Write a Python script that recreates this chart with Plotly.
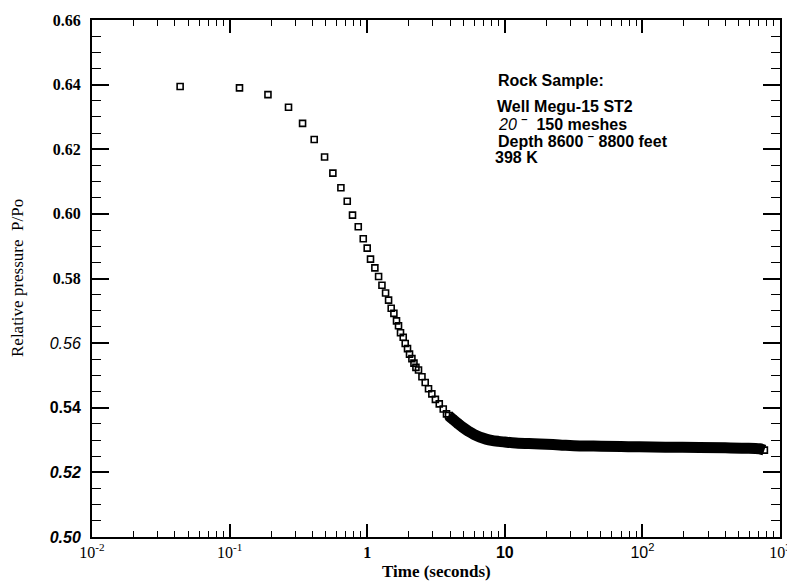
"""Relative pressure decay vs time (log scale), scanned-figure style"""

import plotly.graph_objects as go

# ── data ──

# early part: individual squares still distinguishable
time_head = [0.0437, 0.118, 0.19, 0.268, 0.339, 0.412, 0.49, 0.563, 0.644,
             0.716, 0.782, 0.861, 0.936, 1.0, 1.057, 1.137, 1.21, 1.28, 1.36,
             1.43, 1.494, 1.563, 1.633, 1.689, 1.746, 1.827, 1.889, 1.963,
             2.03, 2.113, 2.187, 2.26, 2.36, 2.50, 2.64, 2.79, 2.95, 3.13,
             3.34, 3.57, 3.77]
pressure_head = [0.6394, 0.6390, 0.6369, 0.6330, 0.6280, 0.6230, 0.6176,
                 0.6126, 0.6081, 0.6039, 0.5996, 0.5960, 0.5923, 0.5894,
                 0.5860, 0.5833, 0.5806, 0.5779, 0.5755, 0.5733, 0.5708,
                 0.5692, 0.5669, 0.5654, 0.5632, 0.5618, 0.5599, 0.5583,
                 0.5566, 0.5552, 0.5538, 0.5525, 0.5517, 0.5496, 0.5478,
                 0.5459, 0.5443, 0.5426, 0.5412, 0.5396, 0.5381]

# late part: markers merge into a solid band
time_tail = [3.9, 4.2, 4.6, 5.0, 5.5, 6.0, 6.6, 7.3, 8.0, 9.0, 10, 12, 15,
             18, 25, 35, 50, 70, 95, 150, 260, 400, 550, 710, 770]
pressure_tail = [0.5376, 0.5364, 0.5350, 0.5338, 0.5326, 0.5317, 0.5309,
                 0.5303, 0.5299, 0.5296, 0.5294, 0.5291, 0.5289, 0.5288,
                 0.5285, 0.5282, 0.5281, 0.5280, 0.5279, 0.5278, 0.5277,
                 0.5276, 0.5275, 0.5273, 0.5269]

x_tickvals = [0.01, 0.1, 1, 10, 100, 1000]
y_tickvals = [0.50, 0.52, 0.54, 0.56, 0.58, 0.60, 0.62, 0.64, 0.66]

SERIF = "Liberation Serif, Times New Roman, serif"
SANS = "Liberation Sans, Arial, sans-serif"


def _sans(s):
    return '<span style="font-family:Liberation Sans, Arial">' + s + "</span>"


x_ticktext = [
    "10<sup>-2</sup>",
    "10<sup>-1</sup>",
    "<b>1</b>",
    _sans("<b>10</b>"),
    _sans("10<sup>2</sup>"),
    "10<sup>3</sup>",
]
y_ticktext = [
    _sans("<b><i>0.50</i></b>"),
    _sans("<b><i>0.52</i></b>"),
    _sans("<b>0.54</b>"),
    _sans("<i>0.56</i>"),
    "<b>0.58</b>", "<b>0.60</b>", "<b>0.62</b>", "<b>0.64</b>", "<b>0.66</b>",
]

# the page body has an 8px margin, so screen px = figure px + 8
OFF = 8
# plot area in screen pixels
L, R, T, B = 92, 780, 19.5, 537.5
W, H = 795, 584


def px_x(x):
    return (x - L) / (R - L)


def px_y(y):
    return (B - y) / (B - T)


minor_x = [m * 10 ** k for k in range(-2, 3) for m in range(2, 10)]

fig = go.Figure()
fig.add_trace(go.Scatter(
    x=time_head, y=pressure_head, mode="markers",
    marker=dict(symbol="square-open", size=6, color="black",
                line=dict(color="black", width=1.6)),
    showlegend=False,
))
fig.add_trace(go.Scatter(
    x=time_tail, y=pressure_tail, mode="lines+markers",
    line=dict(color="black", width=11, shape="spline"),
    marker=dict(symbol="square-open", size=6, color="black",
                line=dict(color="black", width=1.6)),
    showlegend=False,
))

fig.update_layout(
    width=W, height=H,
    margin=dict(l=L - OFF, r=W - R + OFF, t=T - OFF, b=H - B + OFF,
                autoexpand=False),
    paper_bgcolor="white", plot_bgcolor="white",
    font=dict(family=SERIF, color="black", size=15),
    xaxis=dict(
        type="log", range=[-2, 3], automargin=False,
        tickvals=x_tickvals, ticktext=x_ticktext,
        ticks="inside", ticklen=13, tickwidth=1.5, tickcolor="black",
        minor=dict(tickvals=minor_x, ticks="inside", ticklen=6,
                   tickwidth=1.3, tickcolor="black"),
        showline=True, linecolor="black", linewidth=1.8, mirror="allticks",
        showgrid=False, zeroline=False,
        tickfont=dict(family=SERIF, size=16, color="black"),
    ),
    yaxis=dict(
        range=[0.50, 0.66], automargin=False,
        tickvals=y_tickvals, ticktext=y_ticktext,
        ticks="inside", ticklen=17, tickwidth=1.5, tickcolor="black",
        minor=dict(dtick=0.005, ticks="inside", ticklen=9,
                   tickwidth=1.3, tickcolor="black"),
        showline=True, linecolor="black", linewidth=2, mirror="allticks",
        showgrid=False, zeroline=False,
        tickfont=dict(family=SERIF, size=16, color="black"),
        ticklabelstandoff=6,
    ),
)

# axis titles
fig.add_annotation(
    text="Relative pressure  P/Po", xref="paper", yref="paper",
    x=px_x(17), y=px_y(278), textangle=-90, showarrow=False,
    font=dict(family=SERIF, size=17), xanchor="center", yanchor="middle",
)
fig.add_annotation(
    text="<b>Time (seconds)</b>", xref="paper", yref="paper",
    x=px_x(436), y=px_y(572), showarrow=False,
    font=dict(family=SERIF, size=17), xanchor="center", yanchor="middle",
)

# sample description
notes = [
    ("<b>Rock Sample:</b>", 496, 80),
    ("<b>Well Megu-15 ST2</b>", 495, 106),
    ("<i>20</i> <b><sup>–</sup>  150 meshes</b>", 496, 123),
    ("<b>Depth 8600 <sup>–</sup> 8800 feet</b>", 496, 140),
    ("<b>398 K</b>", 493, 157),
]
for text, x, y in notes:
    fig.add_annotation(
        text=text, xref="paper", yref="paper", x=px_x(x), y=px_y(y),
        showarrow=False, xanchor="left", yanchor="middle",
        font=dict(family=SANS, size=16, color="black"),
    )

fig.write_html("out.html")
